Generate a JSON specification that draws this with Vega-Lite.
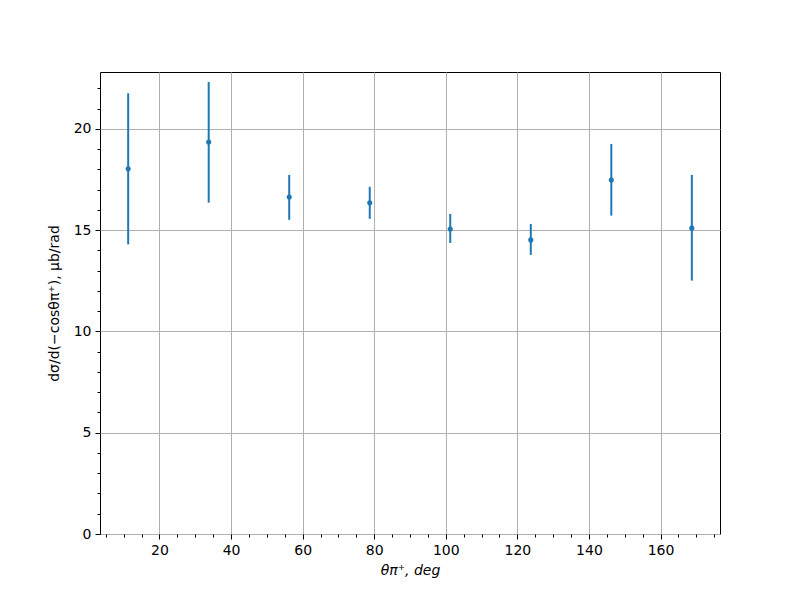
{
  "$schema": "https://vega.github.io/schema/vega-lite/v6.json",
  "width": 620,
  "height": 462,
  "autosize": {"type": "none"},
  "padding": {"left": 100, "top": 72, "right": 80, "bottom": 66},
  "background": "white",
  "config": {
    "view": {"stroke": "black", "strokeWidth": 1},
    "axis": {
      "labelFont": "DejaVu Sans",
      "titleFont": "DejaVu Sans",
      "labelFontSize": 14,
      "titleFontSize": 14,
      "titleFontWeight": "normal",
      "labelColor": "black",
      "titleColor": "black",
      "tickColor": "black",
      "domain": false,
      "gridColor": "#b0b0b0",
      "gridWidth": 1,
      "tickWidth": 1
    }
  },
  "data": {
    "values": [
      {"theta": 11.25, "val": 18.03, "lo": 14.30, "hi": 21.76},
      {"theta": 33.75, "val": 19.35, "lo": 16.36, "hi": 22.32},
      {"theta": 56.25, "val": 16.64, "lo": 15.51, "hi": 17.73},
      {"theta": 78.75, "val": 16.35, "lo": 15.56, "hi": 17.14},
      {"theta": 101.25, "val": 15.06, "lo": 14.37, "hi": 15.80},
      {"theta": 123.75, "val": 14.52, "lo": 13.78, "hi": 15.31},
      {"theta": 146.25, "val": 17.48, "lo": 15.72, "hi": 19.26},
      {"theta": 168.75, "val": 15.10, "lo": 12.51, "hi": 17.73}
    ]
  },
  "resolve": {"axis": {"x": "independent", "y": "independent"}},
  "layer": [
    {
      "mark": {"type": "rule", "color": "#1f77b4", "strokeWidth": 2},
      "encoding": {
        "x": {
          "field": "theta", "type": "quantitative",
          "scale": {"domain": [3.375, 176.625], "nice": false, "zero": false},
          "axis": {
            "orient": "bottom",
            "values": [20, 40, 60, 80, 100, 120, 140, 160],
            "grid": true, "tickSize": 5, "labelPadding": 4,
            "title": "θπ⁺, deg", "titlePadding": 6, "titleFontStyle": "italic"
          }
        },
        "y": {
          "field": "lo", "type": "quantitative",
          "scale": {"domain": [0, 22.81], "nice": false},
          "axis": {
            "orient": "left",
            "values": [0, 5, 10, 15, 20],
            "grid": true, "tickSize": 5, "labelPadding": 4,
            "title": "dσ/d(−cosθπ⁺), μb/rad", "titlePadding": 12
          }
        },
        "y2": {"field": "hi"}
      }
    },
    {
      "mark": {"type": "point", "filled": true, "color": "#1f77b4", "opacity": 1, "size": 26},
      "encoding": {
        "x": {
          "field": "theta", "type": "quantitative",
          "axis": {
            "orient": "bottom",
            "values": [5, 10, 15, 25, 30, 35, 45, 50, 55, 65, 70, 75, 85, 90, 95, 105, 110, 115, 125, 130, 135, 145, 150, 155, 165, 170, 175],
            "grid": false, "tickSize": 3, "labels": false, "title": null
          }
        },
        "y": {
          "field": "val", "type": "quantitative",
          "axis": {
            "orient": "left",
            "values": [1, 2, 3, 4, 6, 7, 8, 9, 11, 12, 13, 14, 16, 17, 18, 19, 21, 22],
            "grid": false, "tickSize": 3, "labels": false, "title": null
          }
        }
      }
    }
  ]
}
